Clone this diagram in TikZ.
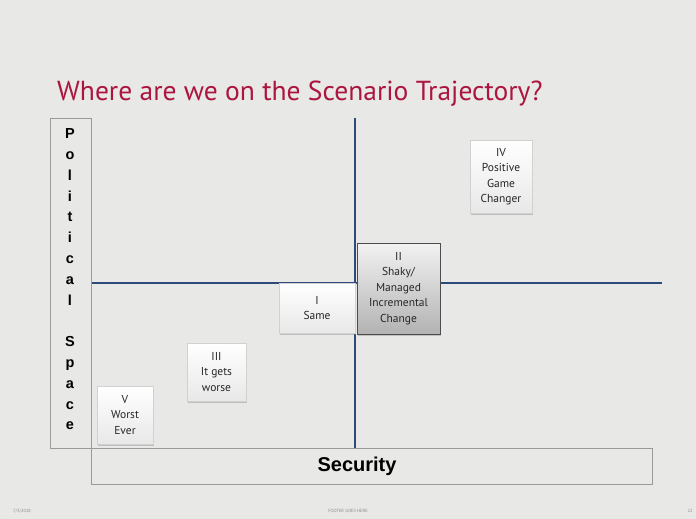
\documentclass[tikz,border=0pt]{standalone}
\usepackage{fontspec}
\setmainfont{PT Sans}
\newfontfamily\arialfont{Liberation Sans}
\usetikzlibrary{shadows}
\definecolor{bg}{HTML}{E8E8E6}
\definecolor{titlered}{HTML}{AC163E}
\definecolor{axisblue}{HTML}{2E4A7A}
\definecolor{frame}{HTML}{9A9A9A}
\tikzset{
  scenbox/.style={draw=black!18, line width=0.5pt, top color=white, bottom color=black!9,
    drop shadow={opacity=0.4, shadow xshift=0.6pt, shadow yshift=-1.8pt},
    align=center, inner sep=0pt, font=\fontsize{11.5}{15.5}\selectfont, text=black!85},
  darkbox/.style={scenbox, draw=black!70, top color=black!5, bottom color=black!30},
  axis/.style={draw=axisblue, line width=1.6pt},
  labelframe/.style={draw=frame, line width=0.6pt},
  foot/.style={font=\fontsize{4.5}{5}\selectfont, text=black!45}
}
\begin{document}
\begin{tikzpicture}[x=1pt,y=-1pt]
\fill[bg] (0,0) rectangle (696,519);
\useasboundingbox (0,0) rectangle (696,519);
\node[anchor=base west, text=titlered, font=\fontsize{27.5}{32}\selectfont, inner sep=0pt] (title) at (57,100) {Where are we on the Scenario Trajectory?};
% axes
\coordinate (hl) at (91,283);
\coordinate (hr) at (662,283);
\coordinate (vt) at (355,118);
\coordinate (vb) at (355,448);
\draw[axis] (hl) -- (hr);
\draw[axis] (vt) -- (vb);
% political space frame
\node[labelframe, minimum width=41pt, minimum height=330pt, inner sep=0pt] (pol) at (70.5,283) {};
\node[font=\arialfont\bfseries\fontsize{14.5}{20.8}\selectfont, align=center, inner sep=0pt, anchor=north] (poltext) at (70,128.5) {P\\o\\l\\i\\t\\i\\c\\a\\l\\[20.8pt]S\\p\\a\\c\\e};
% security frame
\node[labelframe, minimum width=561pt, minimum height=36pt, inner sep=0pt] (sec) at (371.5,466) {};
\node[font=\arialfont\bfseries\fontsize{20}{24}\selectfont, inner sep=0pt] (sectext) at (357,466) {Security};
% scenario boxes
\node[scenbox, minimum width=76pt, minimum height=50pt] (b1) at (317,308) {I\\Same};
\node[darkbox, minimum width=83pt, minimum height=91pt] (b2) at (398.5,288.5) {II\\Shaky/\\Managed\\Incremental\\Change};
\node[scenbox, minimum width=62pt, minimum height=73pt] (b4) at (501,176.5) {IV\\Positive\\Game\\Changer};
\node[scenbox, minimum width=59pt, minimum height=58pt] (b3) at (216.5,372) {III\\It gets\\worse};
\node[scenbox, minimum width=56pt, minimum height=58pt] (b5) at (125,415) {V\\Worst\\Ever};
% footer
\node[foot] (f1) at (22,511) {7/3/2018};
\node[foot] (f2) at (348,511) {FOOTER GOES HERE};
\node[foot] (f3) at (690,511) {22};
\end{tikzpicture}
\end{document}
